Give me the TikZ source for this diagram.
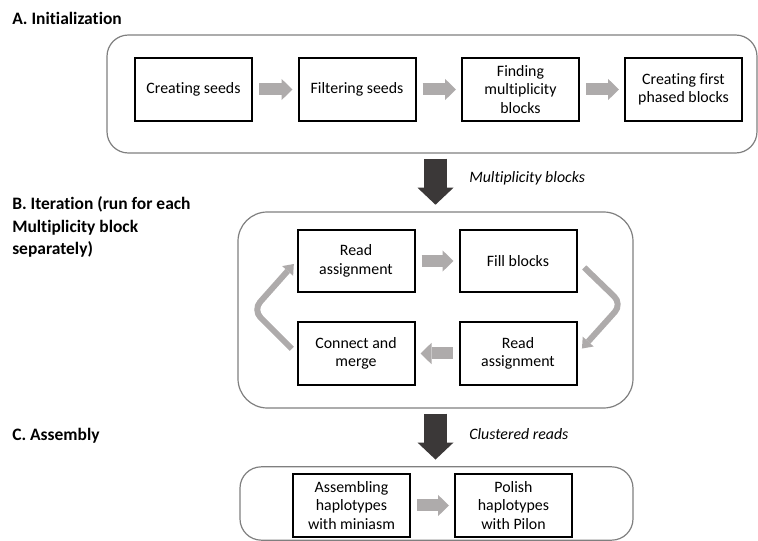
\documentclass[tikz,border=0pt]{standalone}
\usepackage{fontspec}
\setmainfont{Carlito}[Ligatures=NoCommon]
\usetikzlibrary{arrows.meta}
\definecolor{lgray}{HTML}{AEABAB}
\definecolor{dgray}{HTML}{3B3838}
\definecolor{cgray}{HTML}{7F7F7F}
\begin{document}
\begin{tikzpicture}[x=0.75pt,y=-0.75pt,
  box/.style={draw=black,line width=1.5pt,minimum width=87.75pt,minimum height=47pt,inner sep=2pt,align=center,font=\fontsize{11.9}{13.9}\selectfont},
  cont/.style={draw=cgray,line width=0.9pt,rounded corners=16pt},
  title/.style={anchor=base west,inner sep=0pt,align=left,font=\fontsize{13.1}{16.9}\selectfont\bfseries},
  lab/.style={anchor=base west,inner sep=0pt,font=\fontsize{11.9}{13.9}\selectfont\itshape},
  garrow/.style={draw=lgray,line width=9pt,shorten <=4.5pt,shorten >=3.75pt,-{Triangle[length=8.25pt,width=16pt,line width=0pt]}},
  darrow/.style={draw=dgray,line width=17pt,shorten <=3.75pt,shorten >=5pt,-{Triangle[length=12.75pt,width=27pt,line width=0pt]}},
  barrow/.style={draw=lgray,line width=4.5pt,rounded corners=8pt,line cap=butt,-{Triangle[length=7pt,width=11pt,line width=0pt]}}
]
\useasboundingbox (0,0) rectangle (758,541);
% containers
\node[cont,minimum width=487.5pt,minimum height=88.5pt] (contA) at (432,94) {};
\node[cont,rounded corners=22pt,minimum width=296.25pt,minimum height=147pt] (contB) at (435.5,310) {};
\node[cont,minimum width=294.75pt,minimum height=55pt] (contC) at (436.5,503.5) {};
% titles
\node[title] (tA) at (12,25) {A. Initialization};
\node[title] (tB) at (12,255) {B. Iteration (run for each\\Multiplicity block\\separately)};
\node[title] (tC) at (12,441) {C. Assembly};
% A boxes
\node[box] (cs) at (193.5,89.5) {Creating seeds};
\node[box] (fs) at (357,89.5) {Filtering seeds};
\node[box] (fmb) at (520.5,89.5) {Finding\\multiplicity\\blocks};
\node[box] (cfp) at (683.5,89.5) {Creating first\\phased blocks};
\draw[garrow] (cs) -- (fs);
\draw[garrow] (fs) -- (fmb);
\draw[garrow] (fmb) -- (cfp);
% B boxes
\node[box] (ra1) at (356,261) {Read\\assignment};
\node[box] (fb) at (518,261) {Fill blocks};
\node[box] (ra2) at (518,353.5) {Read\\assignment};
\node[box] (cm) at (356,353.5) {Connect and\\merge};
\draw[garrow] (ra1) -- (fb);
\draw[garrow] (ra2) -- (cm);
\coordinate (kr) at (622,304);
\coordinate (kl) at (253,310);
\draw[barrow,shorten <=7pt,shorten >=5pt] (fb.east) -- (kr) -- (ra2.east);
\draw[barrow,shorten <=5pt,shorten >=3pt] (cm.west) -- (kl) -- (ra1.west);
% C boxes
\node[box] (asm) at (351.5,505.5) {Assembling\\haplotypes\\with miniasm};
\node[box] (pol) at (513.5,505.5) {Polish\\haplotypes\\with Pilon};
\draw[garrow] (asm) -- (pol);
% dark arrows
\draw[darrow] (contB.north |- contA.south) -- (contB.north);
\draw[darrow] (contB.south) -- (contB.south |- contC.north);
\node[lab] (l1) at (469,183) {Multiplicity blocks};
\node[lab] (l2) at (469,440) {Clustered reads};
\end{tikzpicture}
\end{document}
